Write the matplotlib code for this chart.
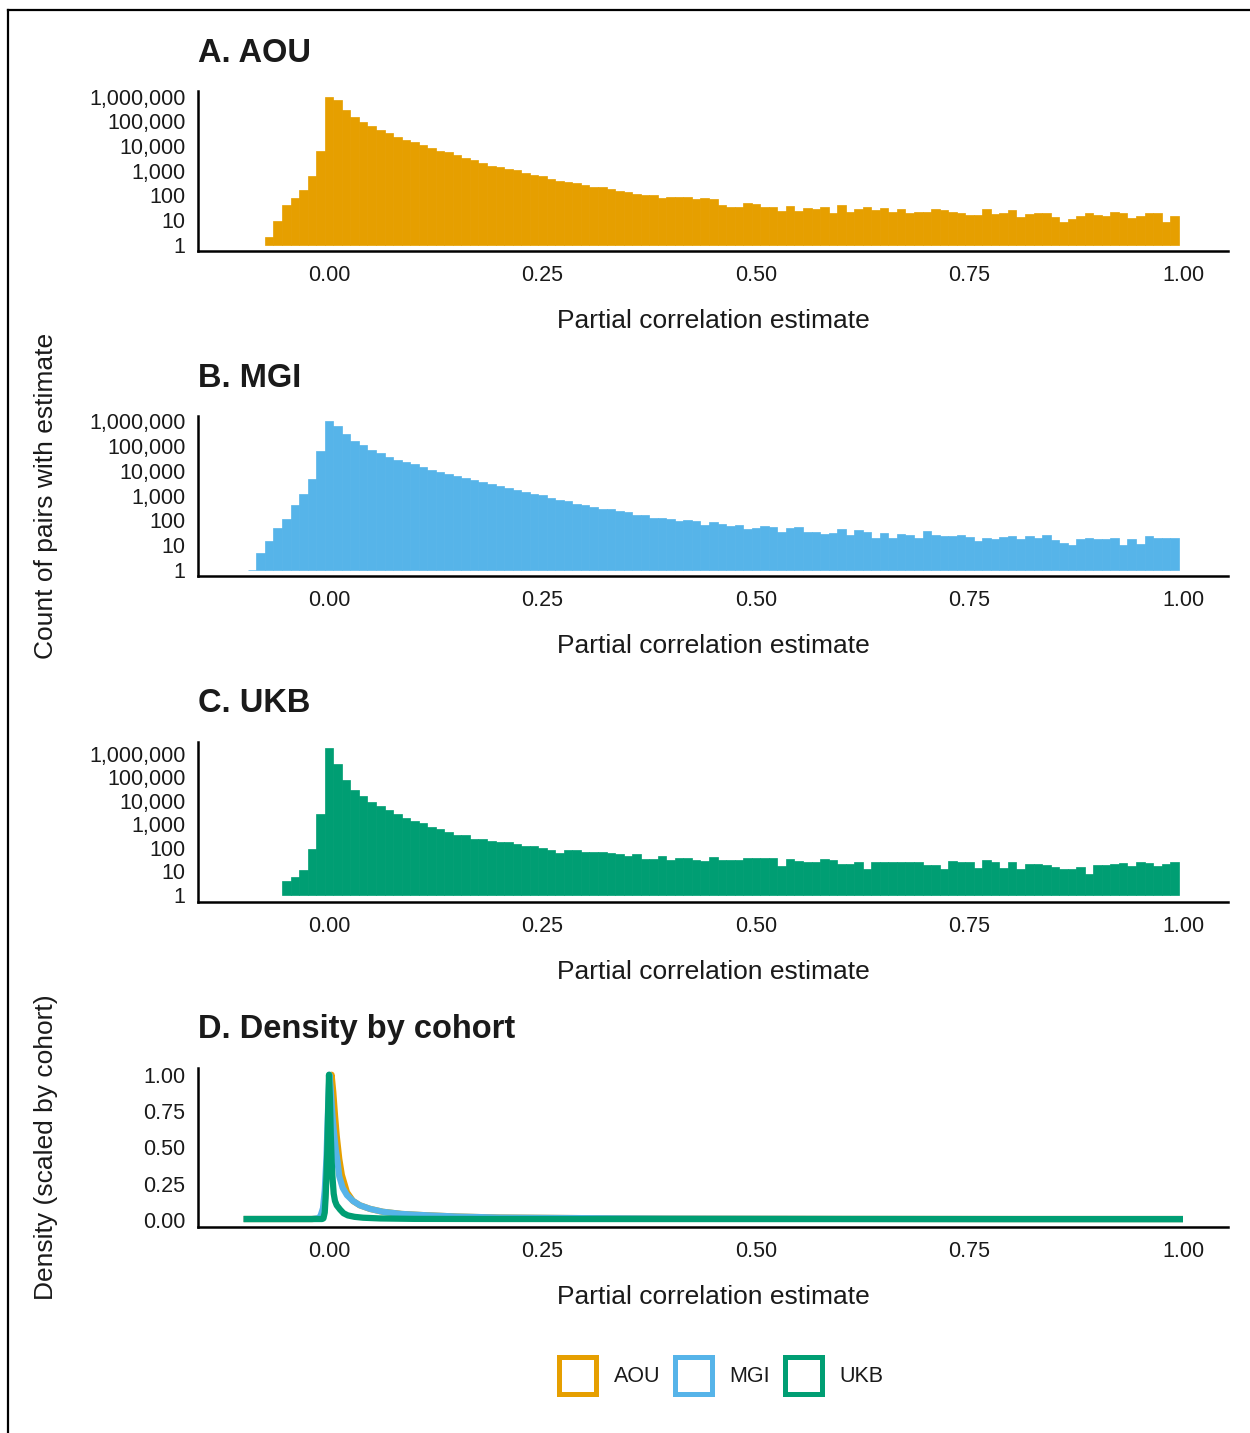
import numpy as np
import matplotlib
matplotlib.use("Agg")
import matplotlib.pyplot as plt
from matplotlib.patches import Patch
from matplotlib.lines import Line2D
from matplotlib.ticker import FixedLocator, NullLocator

plt.rcParams['font.family'] = ['Liberation Sans', 'DejaVu Sans']

# ---------------- data ----------------
BIN_WIDTH = 0.01
COHORTS = ["AOU", "MGI", "UKB"]
COLORS = {"AOU": "#E69F00", "MGI": "#56B4E9", "UKB": "#009E73"}
TITLES = ["A. AOU", "B. MGI", "C. UKB"]

AOU_FIRST_BIN = -0.07
AOU_COUNTS = [2, 9, 42, 79, 170, 589, 6457,
              977000, 758600, 302000, 158500, 97700, 63100, 45700, 33900, 24500, 18200,
              14800, 11200, 8710, 6610, 5500, 4370, 3310, 2690, 2140, 1620,
              1480, 1150, 1020, 794, 676, 589, 457, 380, 347, 302,
              269, 214, 210, 174, 145, 135, 115, 105, 100, 78,
              83, 83, 87, 69, 76, 72, 42, 32, 32, 49,
              45, 35, 32, 24, 37, 24, 30, 28, 32, 20,
              39, 22, 29, 32, 25, 30, 22, 29, 19, 21,
              22, 29, 25, 22, 20, 16, 16, 27, 17, 20,
              25, 13, 17, 19, 20, 13, 8, 11, 14, 20,
              16, 14, 22, 20, 12, 14, 20, 20, 8, 14]

MGI_FIRST_BIN = -0.09
MGI_COUNTS = [1, 5, 14, 49, 110, 407, 1175, 4786, 66070,
              1000000, 660700, 316200, 166000, 107200, 72400, 52500, 38000, 28800, 22900,
              18200, 14450, 11200, 9330, 7590, 6460, 5370, 4370, 3720, 2950,
              2450, 2040, 1700, 1445, 1200, 1020, 832, 661, 589, 479,
              407, 347, 288, 285, 245, 224, 158, 170, 123, 122,
              117, 98, 107, 91, 63, 85, 71, 60, 66, 46,
              49, 59, 55, 35, 50, 55, 34, 35, 27, 30,
              45, 25, 42, 35, 19, 31, 20, 28, 26, 20,
              38, 26, 24, 24, 26, 22, 14, 19, 17, 21,
              23, 17, 23, 19, 26, 16, 12, 10, 17, 19,
              17, 17, 19, 10, 17, 11, 23, 20, 19, 19]

UKB_FIRST_BIN = -0.05
UKB_COUNTS = [4, 6, 11, 91, 2818,
              1862000, 363000, 75900, 29500, 16200, 9330, 5890, 3980, 2820, 1950,
              1445, 1096, 813, 617, 479, 355, 350, 234, 232, 204,
              182, 170, 148, 123, 122, 100, 81, 62, 79, 78,
              69, 66, 69, 62, 55, 47, 55, 34, 34, 47,
              31, 39, 36, 32, 28, 42, 31, 31, 31, 39,
              36, 36, 37, 17, 35, 28, 26, 26, 33, 30,
              20, 20, 26, 13, 26, 25, 24, 24, 24, 24,
              19, 19, 13, 28, 24, 26, 14, 30, 25, 14,
              24, 13, 20, 20, 18, 15, 13, 13, 15, 8,
              19, 19, 21, 22, 17, 26, 22, 17, 21, 25]

# scaled density curves
AOU_DENS_X = [-0.10, -0.02, -0.012, -0.008, -0.005, -0.003, -0.001, 0.001, 0.003, 0.005,
              0.007, 0.009, 0.012, 0.015, 0.021, 0.028, 0.036, 0.048, 0.063, 0.085,
              0.11, 0.15, 0.2, 0.3, 0.4, 0.6, 0.8, 1.0]
AOU_DENS_Y = [0.005, 0.005, 0.008, 0.03, 0.12, 0.3, 0.6, 0.88, 1.0, 0.88,
              0.72, 0.58, 0.42, 0.31, 0.19, 0.13, 0.10, 0.075, 0.055, 0.04,
              0.032, 0.022, 0.015, 0.011, 0.008, 0.006, 0.005, 0.005]
MGI_DENS_X = [-0.10, -0.02, -0.013, -0.010, -0.007, -0.005, -0.003, -0.001, 0.0005, 0.002,
              0.004, 0.0055, 0.008, 0.010, 0.012, 0.016, 0.021, 0.028, 0.036, 0.048,
              0.063, 0.085, 0.11, 0.15, 0.2, 0.3, 0.4, 0.6, 0.8, 1.0]
MGI_DENS_Y = [0.005, 0.005, 0.01, 0.025, 0.08, 0.2, 0.42, 0.78, 1.0, 0.9,
              0.72, 0.62, 0.48, 0.40, 0.30, 0.22, 0.17, 0.13, 0.10, 0.075,
              0.055, 0.04, 0.032, 0.022, 0.015, 0.011, 0.008, 0.006, 0.005, 0.005]
UKB_DENS_X = [-0.10, -0.008, -0.0065, -0.005, -0.004, -0.003, -0.002, -0.001, 0.0, 0.001,
              0.002, 0.003, 0.004, 0.0055, 0.007, 0.009, 0.013, 0.017, 0.022, 0.03,
              0.04, 0.06, 0.1, 0.2, 1.0]
UKB_DENS_Y = [0.005, 0.005, 0.01, 0.05, 0.15, 0.3, 0.48, 0.75, 1.0, 0.85,
              0.6, 0.42, 0.3, 0.18, 0.13, 0.1, 0.07, 0.045, 0.03, 0.02,
              0.014, 0.009, 0.006, 0.005, 0.004]

X_TICKS = [0.0, 0.25, 0.50, 0.75, 1.00]
X_TICK_LABELS = ["0.00", "0.25", "0.50", "0.75", "1.00"]
Y_LOG_TICKS = [1, 10, 100, 1000, 10000, 100000, 1000000]
Y_LOG_LABELS = ["1", "10", "100", "1,000", "10,000", "100,000", "1,000,000"]
Y_DENS_TICKS = [0.0, 0.25, 0.50, 0.75, 1.00]
Y_DENS_LABELS = ["0.00", "0.25", "0.50", "0.75", "1.00"]
X_LABEL = "Partial correlation estimate"
Y_LABEL_HIST = "Count of pairs with estimate"
Y_LABEL_DENS = "Density (scaled by cohort)"
D_TITLE = "D. Density by cohort"

# ---------------- layout ----------------
W, H = 1250, 1433
fig = plt.figure(figsize=(W / 100, H / 100), dpi=100)

def fx(px):
    return px / W

def fy(py):
    return 1 - py / H

AX_LEFT, AX_RIGHT = 198, 1228
PANELS = [(90.7, 250.7), (416, 576), (741.7, 901.7), (1067.5, 1227)]
YLIMS_LOG = [(-0.25, 6.25), (-0.25, 6.22), (-0.29, 6.52)]
XLIM = (-0.1534, 1.0527)
TXT = "#1a1a1a"
TICK_FS = 15.5
LABEL_FS = 19
TITLE_FS = 23.5

def make_ax(top, bottom):
    ax = fig.add_axes([fx(AX_LEFT), fy(bottom), fx(AX_RIGHT) - fx(AX_LEFT), (bottom - top) / H])
    for s in ["top", "right"]:
        ax.spines[s].set_visible(False)
    for s in ["left", "bottom"]:
        ax.spines[s].set_linewidth(1.8)
        ax.spines[s].set_color("black")
    ax.set_xlim(*XLIM)
    ax.xaxis.set_major_locator(FixedLocator(X_TICKS))
    ax.set_xticklabels(X_TICK_LABELS)
    ax.tick_params(axis="both", length=0, labelsize=TICK_FS, labelcolor=TXT)
    ax.tick_params(axis="x", pad=10)
    ax.tick_params(axis="y", pad=9)
    ax.patch.set_alpha(0)
    return ax

hist_data = [(AOU_FIRST_BIN, AOU_COUNTS), (MGI_FIRST_BIN, MGI_COUNTS), (UKB_FIRST_BIN, UKB_COUNTS)]
for i, (name, (first, counts)) in enumerate(zip(COHORTS, hist_data)):
    top, bottom = PANELS[i]
    ax = make_ax(top, bottom)
    counts = np.asarray(counts, dtype=float)
    centers = first + BIN_WIDTH * np.arange(len(counts))
    c = COLORS[name]
    ax.bar(centers, counts - 1, bottom=1, width=BIN_WIDTH, color=c, edgecolor=c,
           linewidth=0.5, align="center")
    ax.set_yscale("log")
    lo, hi = YLIMS_LOG[i]
    ax.set_ylim(10 ** lo, 10 ** hi)
    ax.yaxis.set_major_locator(FixedLocator(Y_LOG_TICKS))
    ax.yaxis.set_minor_locator(NullLocator())
    ax.set_yticklabels(Y_LOG_LABELS)
    fig.text(fx(AX_LEFT), fy(top - 29.2), TITLES[i], fontsize=TITLE_FS, fontweight="bold",
             ha="left", va="baseline", color=TXT)
    fig.text(fx((AX_LEFT + AX_RIGHT) / 2), fy(bottom + 70), X_LABEL, fontsize=LABEL_FS,
             ha="center", va="center", color=TXT)

# density panel
top, bottom = PANELS[3]
axd = make_ax(top, bottom)
dens = {"AOU": (AOU_DENS_X, AOU_DENS_Y), "MGI": (MGI_DENS_X, MGI_DENS_Y), "UKB": (UKB_DENS_X, UKB_DENS_Y)}
for name in COHORTS:
    xs, ys = dens[name]
    axd.plot(xs, ys, color=COLORS[name], linewidth=4.5, solid_capstyle="butt",
             solid_joinstyle="round")
axd.set_ylim(-0.05, 1.05)
axd.yaxis.set_major_locator(FixedLocator(Y_DENS_TICKS))
axd.set_yticklabels(Y_DENS_LABELS)
fig.text(fx(AX_LEFT), fy(top - 29.2), D_TITLE, fontsize=TITLE_FS, fontweight="bold",
         ha="left", va="baseline", color=TXT)
fig.text(fx((AX_LEFT + AX_RIGHT) / 2), fy(bottom + 70), X_LABEL, fontsize=LABEL_FS,
         ha="center", va="center", color=TXT)

# y axis titles
fig.text(fx(46), fy((PANELS[0][0] + PANELS[2][1]) / 2), Y_LABEL_HIST, rotation=90,
         fontsize=LABEL_FS, ha="center", va="center", color=TXT)
fig.text(fx(46), fy((PANELS[3][0] + PANELS[3][1]) / 2), Y_LABEL_DENS, rotation=90,
         fontsize=LABEL_FS, ha="center", va="center", color=TXT)

# legend
handles = [Patch(facecolor="white", edgecolor=COLORS[n], linewidth=3.6, label=n) for n in COHORTS]
fig.legend(handles=handles, loc="center", bbox_to_anchor=(fx(721), fy(1375.5)), ncol=3,
           frameon=False, fontsize=TICK_FS, handlelength=1.72, handleheight=2.2,
           handletextpad=0.82, columnspacing=0.68, labelcolor=TXT)

# outer frame (cropped rectangle)
fig.add_artist(Line2D([fx(8), fx(W + 5)], [fy(10), fy(10)], color="black", linewidth=1.6,
                      transform=fig.transFigure))
fig.add_artist(Line2D([fx(8), fx(8)], [fy(10), fy(H + 5)], color="black", linewidth=1.6,
                      transform=fig.transFigure))

fig.savefig("out.png", dpi=100)
